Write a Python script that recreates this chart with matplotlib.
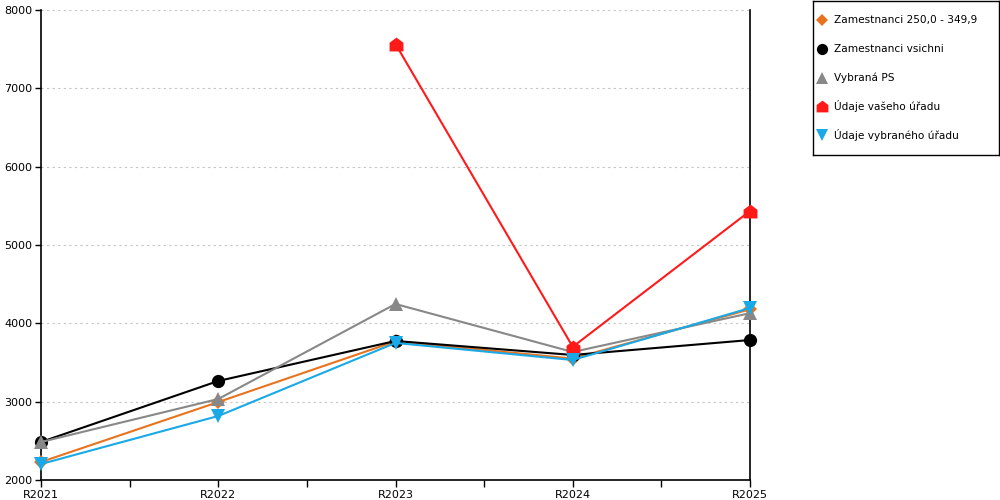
import matplotlib
matplotlib.use("Agg")
import matplotlib.pyplot as plt
from matplotlib.path import Path
from matplotlib.ticker import MultipleLocator, FixedLocator

years = ["R2021", "R2022", "R2023", "R2024", "R2025"]
orange_vals = [2230, 2995, 3770, 3550, 4180]
black_vals = [2485, 3264, 3775, 3596, 3787]
gray_vals = [2485, 3034, 4247, 3634, 4130]
red_vals = [None, None, 7566, 3700, 5434]
blue_vals = [2204, 2817, 3750, 3532, 4196]

names = ["Zamestnanci 250,0 - 349,9", "Zamestnanci vsichni", "Vybraná PS",
         "Údaje vašeho úřadu", "Údaje vybraného úřadu"]

house = Path([(-1, -1), (1, -1), (1, 0.25), (0, 1), (-1, 0.25), (-1, -1)],
             [Path.MOVETO, Path.LINETO, Path.LINETO, Path.LINETO, Path.LINETO, Path.CLOSEPOLY])

plt.rcParams['font.family'] = ['DejaVu Sans']
fig = plt.figure(figsize=(10, 5), dpi=100)
ax = fig.add_axes([0.041, 0.04, 0.709, 0.94])

x = list(range(len(years)))

def pts(vals):
    xs = [i for i, v in zip(x, vals) if v is not None]
    ys = [v for v in vals if v is not None]
    return xs, ys

series = [
    (orange_vals, '#e8731e', 'D', 7),
    (black_vals, '#000000', 'o', 9.5),
    (gray_vals, '#888888', '^', 10),
    (red_vals, '#ff1a1a', house, 10),
    (blue_vals, '#19a9e6', 'v', 10),
]
for (vals, col, mk, ms), nm in zip(series, names):
    xs, ys = pts(vals)
    ax.plot(xs, ys, color=col, lw=1.5, marker=mk, markersize=ms,
            markeredgewidth=0, label=nm, zorder=3, clip_on=False)

ax.set_xlim(0, 4)
ax.set_ylim(2000, 8000)
ax.yaxis.set_major_locator(MultipleLocator(1000))
ax.set_xticks(x)
ax.set_xticklabels(years)
ax.xaxis.set_minor_locator(FixedLocator([0.5, 1.5, 2.5, 3.5]))
ax.tick_params(axis='both', which='both', labelsize=8, direction='out', length=5, width=1, color='black')
ax.tick_params(axis='x', which='major', length=5, pad=2)
ax.tick_params(axis='y', length=4, pad=2)
ax.grid(axis='y', color='#c4c4c4', linestyle=(0, (2, 3)), lw=0.8)
ax.spines['top'].set_visible(False)
for s in ['right', 'left', 'bottom']:
    ax.spines[s].set_linewidth(1.2)

# legend box drawn as its own axes
lax = fig.add_axes([0.813, 0.69, 0.186, 0.308])
lax.set_xlim(0, 1)
lax.set_ylim(1, 0)
lax.set_xticks([])
lax.set_yticks([])
for s in lax.spines.values():
    s.set_linewidth(1)
row_y = [0.123, 0.312, 0.500, 0.682, 0.870]
for (vals, col, mk, ms), nm, ry in zip(series, names, row_y):
    lax.plot([0.048], [ry], linestyle='none', marker=mk, color=col,
             markersize=ms * 0.85, markeredgewidth=0)
    lax.text(0.113, ry, nm, fontsize=7.6, va='center', ha='left')

fig.savefig("out.png", dpi=100)
